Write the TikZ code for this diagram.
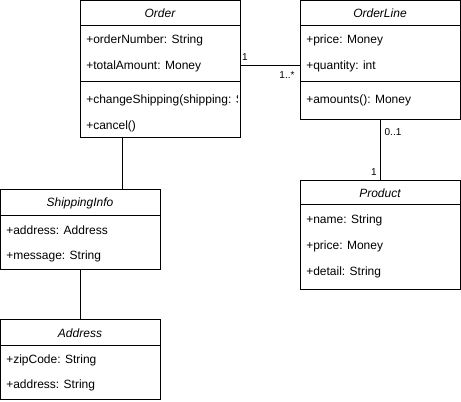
\documentclass[tikz,border=0pt]{standalone}
\usepackage{fontspec}
\setmainfont{Liberation Sans}
\begin{document}
\begin{tikzpicture}[x=0.75pt,y=-0.75pt,
  cls/.style={draw, line width=0.75pt, anchor=north west, inner sep=0pt, outer sep=0pt},
  ttl/.style={font=\fontsize{9}{11}\selectfont\itshape, anchor=center, inner sep=0pt},
  attr/.style={font=\fontsize{9}{11}\selectfont, anchor=west, inner sep=0pt},
  lbl/.style={font=\fontsize{7.5}{9}\selectfont, inner sep=0pt},
  div/.style={line width=0.75pt},
  conn/.style={line width=0.75pt}]
\useasboundingbox (0,0) rectangle (461,402);
% Order
\node[cls, minimum width=120pt, minimum height=102.75pt] (order) at (80,1) {};
\node[ttl] (orderT) at (160,13.5) {Order};
\draw[div] (80,26) -- (240,26);
\draw[div] (80,82) -- (240,82);
\node[attr] (o1) at (86,40) {+orderNumber: String};
\node[attr] (o2) at (86,66) {+totalAmount: Money};
\begin{scope}
\clip (80,82) rectangle (237,138);
\node[attr] (o3) at (86,100) {+changeShipping(shipping: ShippingInfo)};
\end{scope}
\node[attr] (o4) at (86,126) {+cancel()};
% OrderLine
\node[cls, minimum width=120pt, minimum height=89.25pt] (ol) at (300,1) {};
\node[ttl] (olT) at (380,13.5) {OrderLine};
\draw[div] (300,26) -- (460,26);
\draw[div] (300,82) -- (460,82);
\node[attr] (l1) at (306,40) {+price: Money};
\node[attr] (l2) at (306,66) {+quantity: int};
\node[attr] (l3) at (306,100) {+amounts(): Money};
% Product
\node[cls, minimum width=120pt, minimum height=81.75pt] (prod) at (300,181) {};
\node[ttl] (prodT) at (380,193) {Product};
\draw[div] (300,205) -- (460,205);
\node[attr] (p1) at (306,220) {+name: String};
\node[attr] (p2) at (306,246) {+price: Money};
\node[attr] (p3) at (306,272) {+detail: String};
% ShippingInfo
\node[cls, minimum width=120pt, minimum height=60pt] (ship) at (0,190) {};
\node[ttl] (shipT) at (80,203) {ShippingInfo};
\draw[div] (0,216) -- (160,216);
\node[attr] (s1) at (6,230) {+address: Address};
\node[attr] (s2) at (6,256) {+message: String};
% Address
\node[cls, minimum width=120pt, minimum height=60pt] (addr) at (0,320) {};
\node[ttl] (addrT) at (80,333) {Address};
\draw[div] (0,346) -- (160,346);
\node[attr] (a1) at (6,360) {+zipCode: String};
\node[attr] (a2) at (6,385) {+address: String};
% connectors
\draw[conn] (order.east |- 0,65.5) -- (ol.west |- 0,65.5);
\draw[conn] (order.south -| 122,0) -- (ship.north -| 122,0);
\draw[conn] (ship.south) -- (addr.north);
\draw[conn] (ol.south) -- (prod.north);
% multiplicities
\node[lbl] (m1) at (245,57) {1};
\node[lbl] (m2) at (287,75) {1..*};
\node[lbl] (m3) at (393,132) {0..1};
\node[lbl] (m4) at (374,172) {1};
\end{tikzpicture}
\end{document}
